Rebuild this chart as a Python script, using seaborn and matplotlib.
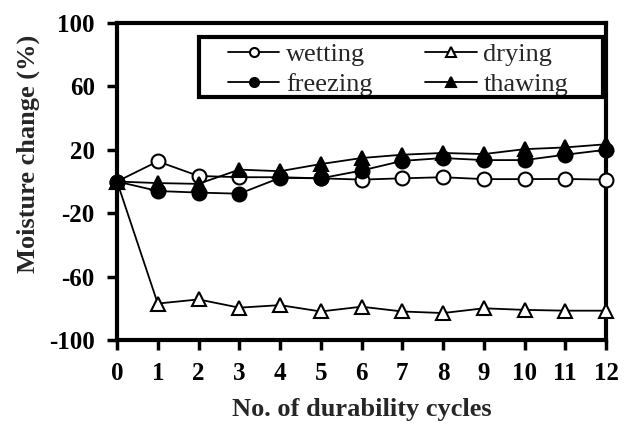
import matplotlib
matplotlib.use("Agg")
import matplotlib.pyplot as plt
import matplotlib.patches as mpatches
import seaborn as sns
import pandas as pd

cycles = list(range(13))
wetting = [0, 12.7, 3.5, 2.7, 2.7, 2.0, 1.2, 2.0, 2.7, 1.5, 1.5, 1.6, 1.2]
drying = [0, -77, -74.4, -79.6, -78, -82, -79, -82, -83, -80, -81, -81.5, -81.5]
freezing = [0, -6, -7, -7.7, 2.3, 2.0, 6.9, 13, 14.8, 13.5, 13.5, 16.9, 20]
thawing = [0, -1, -1.5, 7.5, 6.5, 11, 14.8, 16.9, 18, 17.3, 20.4, 21.5, 23.5]
series_names = ["wetting", "drying", "freezing", "thawing"]
y_ticks = [-100, -60, -20, 20, 60, 100]

sns.set_theme(style="white")
plt.rcParams["font.family"] = ["Liberation Serif", "DejaVu Serif"]

W, H = 630, 426
fig = plt.figure(figsize=(6.3, 4.26), dpi=100)
ax = fig.add_axes([117 / W, 1 - 340 / H, (606 - 117) / W, (340 - 23) / H])

styles = {
    "wetting": dict(marker="o", mfc="white"),
    "drying": dict(marker="^", mfc="white"),
    "freezing": dict(marker="o", mfc="black"),
    "thawing": dict(marker="^", mfc="black"),
}
data = {"wetting": wetting, "drying": drying, "freezing": freezing, "thawing": thawing}
for name in series_names:
    df = pd.DataFrame({"x": cycles, "y": data[name]})
    st = styles[name]
    sns.lineplot(data=df, x="x", y="y", ax=ax, color="black", linewidth=1.3,
                 marker=st["marker"], markerfacecolor=st["mfc"], markeredgecolor="black",
                 markeredgewidth=1.5, markersize=10, label=name, clip_on=False, zorder=3)

ax.set_xlim(0, 12)
ax.set_ylim(-100, 100)
ax.set_xticks(cycles)
ax.set_yticks(y_ticks)
ax.set_xticklabels([str(c) for c in cycles])
ax.set_yticklabels([str(t) for t in y_ticks])
for lab in ax.get_xticklabels() + ax.get_yticklabels():
    lab.set_fontweight("bold")
    lab.set_fontsize(18)
ax.tick_params(axis="both", direction="out", length=7, width=2.5, color="black",
               bottom=True, left=True, pad=9, labelcolor="black")
for sp in ax.spines.values():
    sp.set_linewidth(3)
    sp.set_color("black")

ax.set_xlabel("No. of durability cycles", fontsize=19, fontweight="bold", labelpad=9)
ax.set_ylabel("Moisture change (%)", fontsize=19, fontweight="bold")
ax.yaxis.set_label_coords((40 - 117) / 489, (340 - 154) / 317)

handles, labels = ax.get_legend_handles_labels()
idx = {l: i for i, l in enumerate(labels)}
order = [idx["wetting"], idx["freezing"], idx["drying"], idx["thawing"]]
leg = ax.legend([handles[i] for i in order], [labels[i] for i in order], ncol=2,
                loc="upper left", bbox_to_anchor=(228 / W, 1 - 43 / H),
                bbox_transform=fig.transFigure, fontsize=19,
                frameon=False, handlelength=1.95, handletextpad=0.25,
                columnspacing=2.0, borderpad=0, labelspacing=0.23,
                markerscale=0.65, borderaxespad=0)

frame = mpatches.Rectangle((199 / W, 1 - 97 / H), (603 - 199) / W, (97 - 37) / H,
                           transform=fig.transFigure, fill=False, edgecolor="black",
                           linewidth=3, zorder=10)
fig.patches.append(frame)

fig.savefig("out.png", dpi=100)
